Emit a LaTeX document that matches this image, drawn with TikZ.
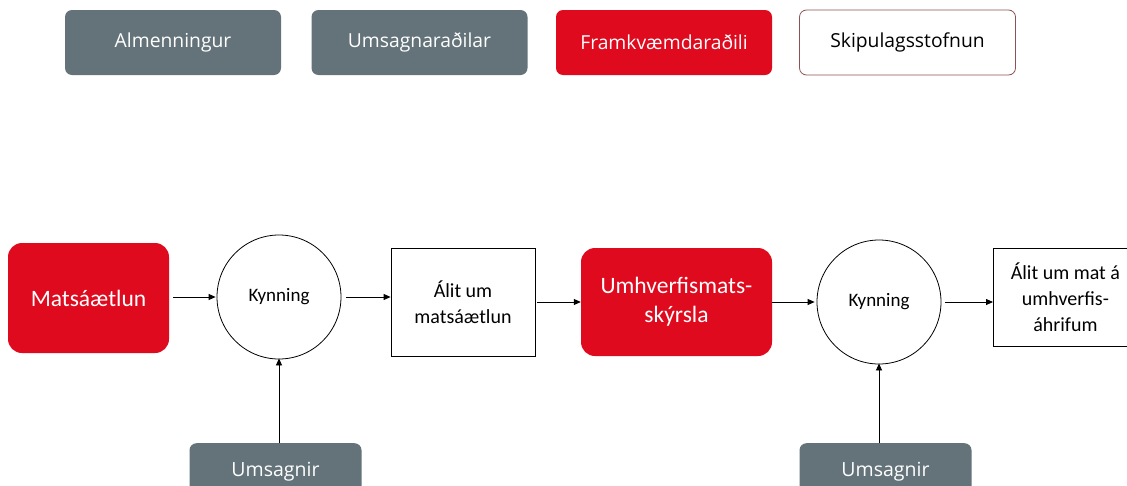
\documentclass[tikz,border=0pt]{standalone}
\usepackage{fontspec}
\setmainfont{Carlito}
\newfontfamily\opensans{Open Sans}
\usetikzlibrary{arrows.meta}
\definecolor{bgray}{HTML}{64737A}
\definecolor{bred}{HTML}{E00A1E}
\definecolor{bbrown}{HTML}{8E5252}
\tikzset{
  legendbox/.style={rounded corners=7pt, minimum width=216pt, minimum height=65pt, inner sep=0pt, font=\opensans\fontsize{19.3}{23}\selectfont},
  graybox/.style={legendbox, fill=bgray, text=white},
  redlegend/.style={legendbox, fill=bred, text=white},
  whitelegend/.style={legendbox, draw=bbrown, line width=0.8pt, fill=white, text=black},
  redbox/.style={rounded corners=14pt, fill=bred, text=white, inner sep=0pt, align=center, font=\fontsize{23.5}{29}\selectfont},
  plainbox/.style={draw=black, line width=0.8pt, fill=white, inner sep=0pt, align=center, font=\fontsize{20}{26}\selectfont},
  circ/.style={circle, draw=black, line width=0.8pt, minimum size=124pt, inner sep=0pt, font=\fontsize{19}{22}\selectfont},
  umsbox/.style={rounded corners=7pt, fill=bgray, text=white, minimum width=172pt, minimum height=56pt, inner sep=0pt, font=\opensans\fontsize{19.5}{23}\selectfont},
  conn/.style={draw=black, line width=0.8pt, -{Triangle[length=7pt,width=6pt]}},
}
\begin{document}
\begin{tikzpicture}[x=1pt,y=-1pt]
\useasboundingbox (0,0) rectangle (1127,485);
\clip (0,0) rectangle (1127,485);
% legend
\node[graybox] (almenn) at (173,42.5) {Almenningur};
\node[graybox] (umsagnar) at (419.5,42.5) {Umsagnaraðilar};
\node[redlegend] (framkv) at (664,42.5) {Framkvæmdaraðili};
\node[whitelegend] (skipul) at (907.5,42.5) {Skipulagsstofnun};
% process
\node[redbox, minimum width=161pt, minimum height=110pt] (mats) at (88.5,298) {Matsáætlun};
\node[circ] (kyn1) at (279,297) {Kynning};
\node[plainbox, minimum width=144pt, minimum height=108pt] (alit1) at (463,302) {Álit um\\matsáætlun};
\node[redbox, minimum width=191pt, minimum height=108pt] (umhv) at (676.5,302) {Umhverfismats-\\skýrsla};
\node[circ] (kyn2) at (879,302) {Kynning};
\node[plainbox, minimum width=144pt, minimum height=98pt, anchor=west] (alit2) at (993,297) {\hbox to 134pt{\hss Álit um mat á\hss}\\umhverfis-\\áhrifum};
\node[umsbox, anchor=north] (ums1) at (275.5,443) {Umsagnir};
\node[umsbox, anchor=north] (ums2) at (885.5,443) {Umsagnir};
% connectors
\draw[conn] ([xshift=4pt]mats.east |- kyn1.west) -- ([xshift=-1pt]kyn1.west);
\draw[conn] ([xshift=5pt]kyn1.east) -- (alit1.west |- kyn1.east);
\draw[conn] ([xshift=2pt]alit1.east |- umhv.west) -- (umhv.west);
\draw[conn] (umhv.east) -- ([xshift=-2pt]kyn2.west);
\draw[conn] ([xshift=4pt]kyn2.east) -- (alit2.west |- kyn2.east);
\draw[conn] (ums1.north -| kyn1.south) -- ([yshift=1pt]kyn1.south);
\draw[conn] (ums2.north -| kyn2.south) -- ([yshift=1pt]kyn2.south);
\end{tikzpicture}
\end{document}
